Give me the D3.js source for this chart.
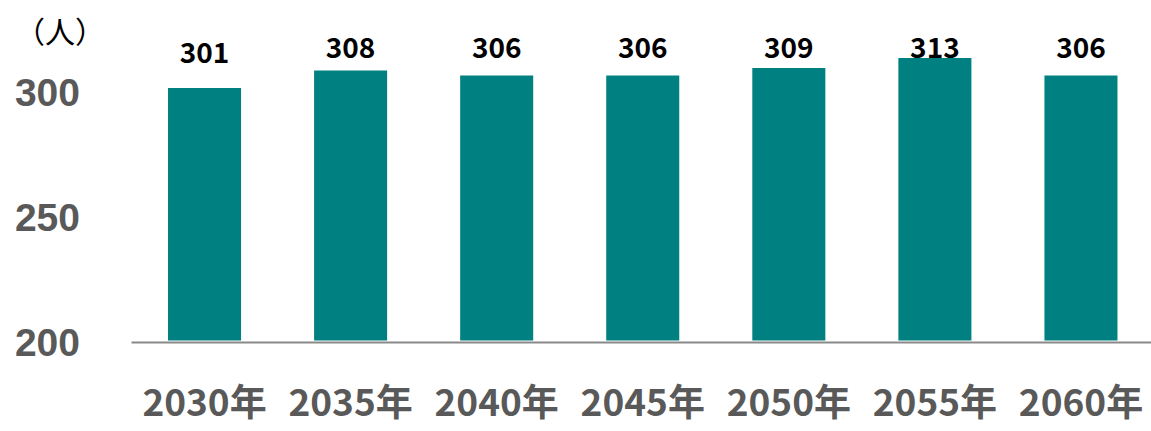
<!DOCTYPE html>
<html>
<head>
<meta charset="utf-8">
<script src="https://cdn.jsdelivr.net/npm/d3@7"></script>
<style>
  body { margin: 0; background: #fff; }
  svg { display: block; }
</style>
</head>
<body>
<svg width="1151" height="431"></svg>
<script>
// data
const years = ['2030年', '2035年', '2040年', '2045年', '2050年', '2055年', '2060年'];
const people = [301, 308, 306, 306, 309, 313, 306];
const yTicks = [200, 250, 300];
const unitLabel = '（人）';

function makeBarChart() {
  const svg = d3.select('svg');
  const w = +svg.attr('width');
  const font = "'Noto Sans CJK JP', 'Noto Sans', sans-serif";

  const xScale = d3.scaleBand()
    .domain(years)
    .range([131.5, 1154])
    .paddingInner(0.5)
    .paddingOuter(0.25);

  const yScale = d3.scaleLinear()
    .domain([200, 336.2])
    .range([340.5, 0]);

  // bars
  svg.append('g').selectAll('rect')
    .data(people)
    .enter()
    .append('rect')
    .attr('x', (d, i) => xScale(years[i]))
    .attr('y', d => yScale(d))
    .attr('width', xScale.bandwidth())
    .attr('height', d => yScale(200) - yScale(d))
    .attr('fill', '#008080');

  // base line
  svg.append('line')
    .attr('x1', 131.5).attr('x2', w)
    .attr('y1', 342.5).attr('y2', 342.5)
    .attr('stroke', '#898989')
    .attr('stroke-width', 2);

  // value labels, kept inside the top of the plot
  svg.append('g').selectAll('text')
    .data(people)
    .enter()
    .append('text')
    .attr('x', (d, i) => xScale(years[i]) + xScale.bandwidth() / 2)
    .attr('y', d => Math.max(yScale(d) - 25, 57.5))
    .attr('text-anchor', 'middle')
    .attr('font-family', font)
    .attr('font-weight', 'bold')
    .attr('font-size', 28)
    .attr('fill', '#000')
    .text(d => d);

  // y axis labels (no line)
  const yAxis = d3.axisLeft(yScale).tickValues(yTicks).tickSize(0).tickPadding(0);
  const gy = svg.append('g')
    .attr('transform', 'translate(80,3)')
    .call(yAxis);
  gy.select('.domain').remove();
  gy.selectAll('text')
    .attr('font-family', "'Liberation Sans', Arial, sans-serif")
    .attr('font-weight', 'bold')
    .attr('font-size', 39)
    .attr('fill', '#595959');

  // x axis labels
  const xAxis = d3.axisBottom(xScale).tickSize(0).tickPadding(0);
  const gx = svg.append('g')
    .attr('transform', 'translate(0,390)')
    .call(xAxis);
  gx.select('.domain').remove();
  gx.selectAll('text')
    .attr('font-family', font)
    .attr('font-weight', 'bold')
    .attr('font-size', 37)
    .attr('fill', '#595959');

  // unit
  svg.append('text')
    .attr('x', 60).attr('y', 43)
    .attr('text-anchor', 'middle')
    .attr('font-family', font)
    .attr('font-size', 30)
    .attr('fill', '#000')
    .text(unitLabel);
}

makeBarChart();
</script>
</body>
</html>
